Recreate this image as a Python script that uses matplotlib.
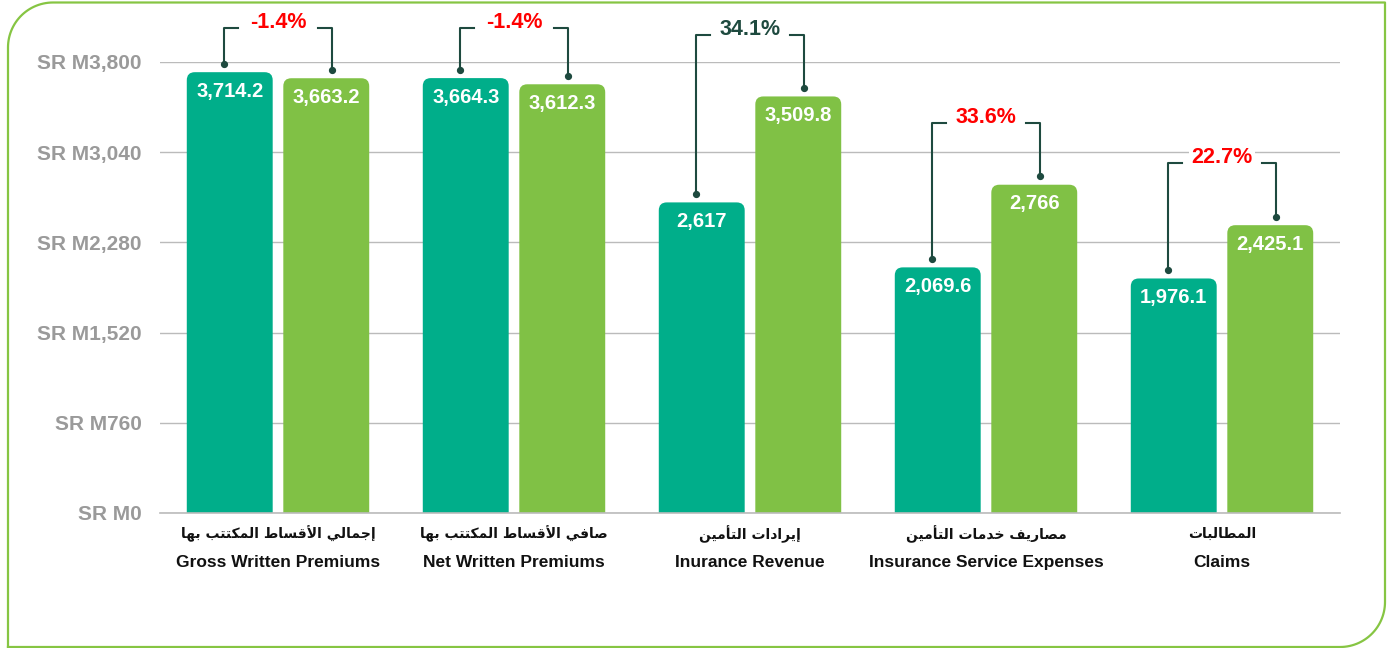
import matplotlib
matplotlib.use('Agg')
import matplotlib.pyplot as plt
from matplotlib.patches import FancyBboxPatch
import numpy as np

# ---- data (SR millions) ----
categories_en = ['Gross Written Premiums', 'Net Written Premiums', 'Inurance Revenue',
                 'Insurance Service Expenses', 'Claims']
categories_ar = ['إجمالي الأقساط المكتتب بها', 'صافي الأقساط المكتتب بها', 'إيرادات التأمين',
                 'مصاريف خدمات التأمين', 'المطالبات']
values_prev = [3714.2, 3664.3, 2617.0, 2069.6, 1976.1]
values_curr = [3663.2, 3612.3, 3509.8, 2766.0, 2425.1]
labels_prev = ['3,714.2', '3,664.3', '2,617', '2,069.6', '1,976.1']
labels_curr = ['3,663.2', '3,612.3', '3,509.8', '2,766', '2,425.1']
change_labels = ['-1.4%', '-1.4%', '34.1%', '33.6%', '22.7%']
ytick_values = [0, 760, 1520, 2280, 3040, 3800]

# ---- style ----
DARK = '#00AE8A'
LIGHT = '#80C145'
BRACKET = '#1E4A3F'
change_colors = ['#FF0000', '#FF0000', '#1E4A3F', '#FF0000', '#FF0000']
BORDER = '#86C543'
W, H = 1391, 648

# minimal arabic shaping (presentation forms + right-to-left order)
FORMS = {
    '\u0627': (0xFE8D, 0xFE8E, None, None),
    '\u0623': (0xFE83, 0xFE84, None, None),
    '\u0625': (0xFE87, 0xFE88, None, None),
    '\u0628': (0xFE8F, 0xFE90, 0xFE91, 0xFE92),
    '\u062A': (0xFE95, 0xFE96, 0xFE97, 0xFE98),
    '\u062C': (0xFE9D, 0xFE9E, 0xFE9F, 0xFEA0),
    '\u062E': (0xFEA5, 0xFEA6, 0xFEA7, 0xFEA8),
    '\u062F': (0xFEA9, 0xFEAA, None, None),
    '\u0631': (0xFEAD, 0xFEAE, None, None),
    '\u0633': (0xFEB1, 0xFEB2, 0xFEB3, 0xFEB4),
    '\u0635': (0xFEB9, 0xFEBA, 0xFEBB, 0xFEBC),
    '\u0637': (0xFEC1, 0xFEC2, 0xFEC3, 0xFEC4),
    '\u0641': (0xFED1, 0xFED2, 0xFED3, 0xFED4),
    '\u0642': (0xFED5, 0xFED6, 0xFED7, 0xFED8),
    '\u0643': (0xFED9, 0xFEDA, 0xFEDB, 0xFEDC),
    '\u0644': (0xFEDD, 0xFEDE, 0xFEDF, 0xFEE0),
    '\u0645': (0xFEE1, 0xFEE2, 0xFEE3, 0xFEE4),
    '\u0646': (0xFEE5, 0xFEE6, 0xFEE7, 0xFEE8),
    '\u0647': (0xFEE9, 0xFEEA, 0xFEEB, 0xFEEC),
    '\u064A': (0xFEF1, 0xFEF2, 0xFEF3, 0xFEF4),
}
LAM_ALEF = {'\u0627': (0xFEFB, 0xFEFC), '\u0623': (0xFEF7, 0xFEF8), '\u0625': (0xFEF9, 0xFEFA)}


def shape_arabic(text):
    def joins_next(c):
        return c in FORMS and FORMS[c][2] is not None
    out = []
    i = 0
    while i < len(text):
        c = text[i]
        if c not in FORMS:
            out.append(c)
            i += 1
            continue
        prev_joins = i > 0 and joins_next(text[i - 1])
        if c == '\u0644' and i + 1 < len(text) and text[i + 1] in LAM_ALEF:
            iso, fin = LAM_ALEF[text[i + 1]]
            out.append(chr(fin if prev_joins else iso))
            i += 2
            continue
        nxt = text[i + 1] if i + 1 < len(text) else None
        next_joins = joins_next(c) and nxt in FORMS
        iso, fin, ini, med = FORMS[c]
        if prev_joins and next_joins:
            f = med
        elif prev_joins:
            f = fin
        elif next_joins:
            f = ini
        else:
            f = iso
        out.append(chr(f))
        i += 1
    return ''.join(reversed(out))


fig = plt.figure(figsize=(W / 100, H / 100), dpi=100)

# background frame: rounded top-left and bottom-right corners
bg = fig.add_axes([0, 0, 1, 1], zorder=-1)
bg.set_xlim(0, W)
bg.set_ylim(H, 0)
bg.axis('off')
L, R, T, B, rad = 8, 1385, 2.5, 647, 45
t = np.linspace(0, np.pi / 2, 30)
xs = [L] + list(L + rad - rad * np.cos(t)) + [R, R] + list(R - rad + rad * np.sin(t[::-1])) + [L, L]
ys = [B] + list(T + rad - rad * np.sin(t)) + [T, B - rad] + list(B - rad + rad * np.cos(t[::-1])) + [B, B]
bg.plot(xs, ys, color=BORDER, lw=1.6, solid_joinstyle='round')

ax_left, ax_right, ax_bottom, ax_top = 160, 1340, 513, 62
ax = fig.add_axes([ax_left / W, 1 - ax_bottom / H, (ax_right - ax_left) / W, (ax_bottom - ax_top) / H])
ax.set_facecolor('none')

x = np.arange(len(categories_en))
width = 0.364
off = 0.2045
bars_prev = ax.bar(x - off, values_prev, width, color=DARK, zorder=3)
bars_curr = ax.bar(x + off, values_curr, width, color=LIGHT, zorder=3)
ax.set_xlim(-0.5, len(categories_en) - 0.5)
ax.set_ylim(0, 3800)

# rounded tops: replace each rectangle by a rounded box clipped at the axis
px_x = (len(categories_en)) / (ax_right - ax_left)
px_y = 3800 / (ax_bottom - ax_top)
rx = 8 * px_x
for bars in (bars_prev, bars_curr):
    for r in bars:
        p = FancyBboxPatch((r.get_x(), -300), r.get_width(), r.get_height() + 300,
                           boxstyle=f"round,pad=0,rounding_size={rx}",
                           mutation_aspect=px_y / px_x, fc=r.get_facecolor(), ec='none', zorder=3)
        ax.add_patch(p)
        r.set_visible(False)

ax.set_yticks(ytick_values)
ax.set_yticklabels([f'SR M{v:,}' for v in ytick_values], fontfamily='Liberation Sans',
                   fontweight='bold', fontsize=15, color='#9A9A9A')
ax.tick_params(axis='y', length=0, pad=13)
ax.set_xticks([])
ax.grid(axis='y', color='#BBBBBB', lw=1, zorder=0)
ax.axhline(0, color='#BBBBBB', lw=1.2, zorder=4, clip_on=False)
for s in ax.spines.values():
    s.set_visible(False)

# value labels inside bars
for bars, labels in ((bars_prev, labels_prev), (bars_curr, labels_curr)):
    for r, lab in zip(bars, labels):
        ax.annotate(lab, (r.get_x() + r.get_width() / 2, r.get_height()), xytext=(0, -7),
                    textcoords='offset points', ha='center', va='top', color='white',
                    fontfamily='Liberation Sans', fontweight='bold', fontsize=14.5, zorder=4)

# change brackets
bx = 0.227
gap = 0.17
for i, (vp, vc, lab, col) in enumerate(zip(values_prev, values_curr, change_labels, change_colors)):
    yl, yr = vp + 70, vc + 70
    top = min(max(vp, vc) + 520, 4090)
    ax.plot([i - bx, i - bx, i - gap], [yl, top, top], color=BRACKET, lw=1.5, clip_on=False, zorder=5)
    ax.plot([i + gap, i + bx, i + bx], [top, top, yr], color=BRACKET, lw=1.5, clip_on=False, zorder=5)
    ax.plot([i - bx, i + bx], [yl, yr], 'o', color=BRACKET, ms=4.2, clip_on=False, zorder=5)
    ax.annotate(lab, (i, top), xytext=(0, 4), textcoords='offset points', ha='center', va='center',
                color=col, fontfamily='Liberation Sans', fontweight='bold', fontsize=15.5,
                annotation_clip=False, zorder=6,
                bbox=dict(boxstyle='square,pad=0.12', fc='white', ec='none'))

# category labels
for i, (en, ar) in enumerate(zip(categories_en, categories_ar)):
    ax.annotate(shape_arabic(ar), (i, 0), xycoords=('data', 'axes fraction'), xytext=(0, -15),
                textcoords='offset points', ha='center', va='center', fontfamily='DejaVu Sans',
                fontweight='bold', fontsize=10, color='#111111', annotation_clip=False)
    ax.annotate(en, (i, 0), xycoords=('data', 'axes fraction'), xytext=(0, -35.5),
                textcoords='offset points', ha='center', va='center', fontfamily='Liberation Sans',
                fontweight='bold', fontsize=12.5, color='#111111', annotation_clip=False)

fig.savefig('out.png', dpi=100, facecolor='white')
